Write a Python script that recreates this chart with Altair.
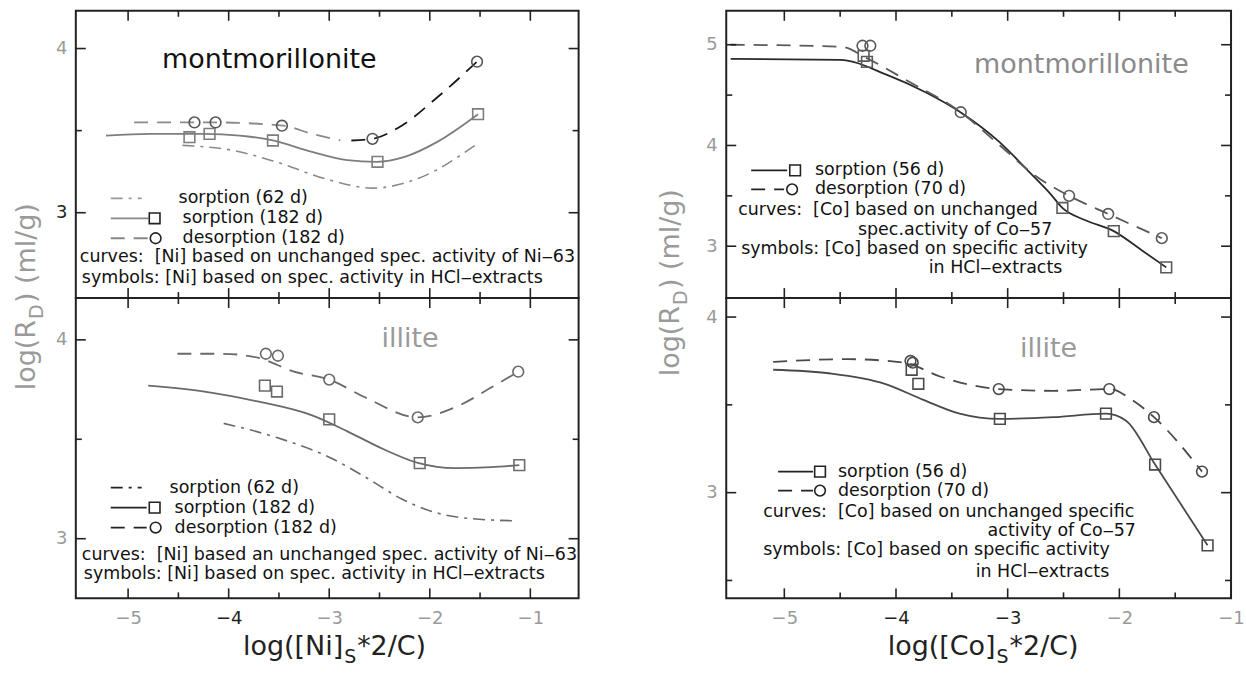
import altair as alt
import pandas as pd

# ------------------------------------------------------------------
# Data
# ------------------------------------------------------------------
# Ni / montmorillonite
ni_mont_sq_x = [-4.39, -4.19, -3.56, -2.52, -1.52]
ni_mont_sq_y = [3.46, 3.48, 3.44, 3.31, 3.60]
ni_mont_ci_x = [-4.34, -4.13, -3.47, -2.57, -1.53]
ni_mont_ci_y = [3.55, 3.55, 3.53, 3.45, 3.92]
ni_mont_s182_x = [-5.22, -4.78, -4.24, -3.89, -3.56, -3.17, -2.82, -2.53, -2.25, -1.93, -1.52]
ni_mont_s182_y = [3.47, 3.48, 3.48, 3.47, 3.44, 3.37, 3.32, 3.31, 3.34, 3.43, 3.60]
ni_mont_d182a_x = [-4.94, -4.35, -4.14, -3.46, -3.17, -2.89]
ni_mont_d182a_y = [3.55, 3.55, 3.55, 3.53, 3.48, 3.44]
ni_mont_d182b_x = [-2.78, -2.57, -2.28, -1.93, -1.53]
ni_mont_d182b_y = [3.44, 3.45, 3.53, 3.70, 3.92]
ni_mont_s62_x = [-4.46, -3.96, -3.53, -3.00, -2.57, -2.11, -1.55]
ni_mont_s62_y = [3.41, 3.38, 3.31, 3.20, 3.15, 3.21, 3.41]

# Ni / illite
ni_ill_sq_x = [-3.64, -3.52, -3.00, -2.10, -1.11]
ni_ill_sq_y = [3.77, 3.74, 3.60, 3.38, 3.37]
ni_ill_ci_x = [-3.63, -3.51, -3.00, -2.12, -1.12]
ni_ill_ci_y = [3.93, 3.92, 3.80, 3.61, 3.84]
ni_ill_s182_x = [-4.80, -4.24, -3.71, -3.17, -2.82, -2.46, -2.11, -1.75, -1.39, -1.11]
ni_ill_s182_y = [3.77, 3.74, 3.69, 3.62, 3.54, 3.45, 3.38, 3.355, 3.36, 3.37]
ni_ill_d182_x = [-4.51, -4.07, -3.71, -3.35, -3.00, -2.64, -2.12, -1.75, -1.39, -1.12]
ni_ill_d182_y = [3.93, 3.93, 3.91, 3.84, 3.80, 3.71, 3.61, 3.66, 3.76, 3.84]
ni_ill_s62_x = [-4.05, -3.53, -3.00, -2.64, -2.28, -1.93, -1.57, -1.14]
ni_ill_s62_y = [3.58, 3.51, 3.41, 3.31, 3.20, 3.13, 3.10, 3.09]

# Co / montmorillonite
co_mont_sq_x = [-4.29, -4.26, -2.51, -2.05, -1.58]
co_mont_sq_y = [4.89, 4.83, 3.38, 3.15, 2.79]
co_mont_ci_x = [-4.30, -4.23, -3.42, -2.45, -2.10, -1.62]
co_mont_ci_y = [4.99, 4.99, 4.33, 3.50, 3.32, 3.08]
co_mont_s56_x = [-5.48, -4.50, -4.08, -3.74, -3.41, -3.08, -2.81, -2.61, -2.51, -2.31, -2.05, -1.80, -1.58]
co_mont_s56_y = [4.86, 4.85, 4.70, 4.53, 4.32, 4.04, 3.74, 3.51, 3.38, 3.26, 3.15, 2.96, 2.79]
co_mont_d70_x = [-5.48, -4.49, -4.25, -3.91, -3.42, -3.08, -2.74, -2.45, -2.10, -1.62]
co_mont_d70_y = [5.00, 4.98, 4.86, 4.65, 4.33, 4.01, 3.69, 3.50, 3.32, 3.08]

# Co / illite
co_ill_sq_x = [-3.86, -3.80, -3.07, -2.12, -1.68, -1.21]
co_ill_sq_y = [3.70, 3.62, 3.42, 3.45, 3.16, 2.70]
co_ill_ci_x = [-3.87, -3.85, -3.08, -2.09, -1.69, -1.26]
co_ill_ci_y = [3.75, 3.74, 3.59, 3.59, 3.43, 3.12]
co_ill_s56_x = [-5.10, -4.60, -4.10, -3.76, -3.43, -3.07, -2.59, -2.12, -1.94, -1.68, -1.21]
co_ill_s56_y = [3.70, 3.68, 3.62, 3.53, 3.45, 3.42, 3.43, 3.45, 3.41, 3.16, 2.70]
co_ill_d70_x = [-5.10, -4.43, -3.93, -3.60, -3.08, -2.59, -2.09, -1.89, -1.69, -1.26]
co_ill_d70_y = [3.745, 3.76, 3.74, 3.66, 3.59, 3.58, 3.59, 3.53, 3.43, 3.12]

# tick values
x_major = [-5, -4, -3, -2, -1]
x_minor = [-4.5, -3.5, -2.5, -1.5]

FONT = "DejaVu Sans"
TXT = 17.5
SOLID = []
DASH = [14, 9]
DASHDOT = [12, 6, 3, 6]
DUMMY = pd.DataFrame({"a": [0]})
SP2 = "\u00a0 "  # double space that survives SVG whitespace collapsing


def curve(xs, ys, xsc, ysc, xax, yax, dash, color, width=1.8):
    df = pd.DataFrame({"x": xs, "y": ys, "o": list(range(len(xs)))})
    mk = dict(color=color, strokeWidth=width, interpolate="monotone")
    if dash:
        mk["strokeDash"] = dash
    return alt.Chart(df).mark_line(**mk).encode(
        x=alt.X("x:Q", scale=xsc, axis=xax),
        y=alt.Y("y:Q", scale=ysc, axis=yax),
        order="o:Q",
    )


def symbols(xs, ys, xsc, ysc, xax, yax, shape, color):
    df = pd.DataFrame({"x": xs, "y": ys})
    return alt.Chart(df).mark_point(
        shape=shape, filled=False, size=115, strokeWidth=1.6, color=color, opacity=1
    ).encode(x=alt.X("x:Q", scale=xsc, axis=xax), y=alt.Y("y:Q", scale=ysc, axis=yax))


def tick_layers(xsc, ysc, xax, yax, ymaj, ymin, W, H):
    out = []
    for vals, L in ((x_major, 10), (x_minor, 6)):
        df = pd.DataFrame({"x": vals})
        b = alt.Chart(df).mark_rule(color="#222", strokeWidth=1.6)
        out.append(b.encode(x=alt.X("x:Q", scale=xsc, axis=xax), y=alt.value(H), y2=alt.value(H - L)))
        out.append(b.encode(x=alt.X("x:Q", scale=xsc, axis=xax), y=alt.value(0), y2=alt.value(L)))
    for vals, L in ((ymaj, 10), (ymin, 6)):
        if not vals:
            continue
        df = pd.DataFrame({"y": vals})
        b = alt.Chart(df).mark_rule(color="#222", strokeWidth=1.6)
        out.append(b.encode(y=alt.Y("y:Q", scale=ysc, axis=yax), x=alt.value(0), x2=alt.value(L)))
        out.append(b.encode(y=alt.Y("y:Q", scale=ysc, axis=yax), x=alt.value(W), x2=alt.value(W - L)))
    return out


def text(s, x, y, size=TXT, color="#111", align="left", angle=0, baseline="middle", weight="normal"):
    mk = dict(text=s, font=FONT, fontSize=size, color=color, align=align, baseline=baseline,
              fontWeight=weight)
    if angle:
        mk["angle"] = angle
    return alt.Chart(DUMMY).mark_text(**mk).encode(x=alt.value(x), y=alt.value(y))


def seg(x1, x2, y, dash, color="#222", width=1.8):
    mk = dict(color=color, strokeWidth=width)
    if dash:
        mk["strokeDash"] = dash
    return alt.Chart(DUMMY).mark_rule(**mk).encode(x=alt.value(x1), x2=alt.value(x2), y=alt.value(y))


def sym(x, y, shape, color="#222"):
    return alt.Chart(DUMMY).mark_point(shape=shape, filled=False, size=115, strokeWidth=1.6,
                                       color=color, opacity=1).encode(x=alt.value(x), y=alt.value(y))


def xaxis(show, black_vals):
    if not show:
        return alt.Axis(labels=False, ticks=False, domain=False, grid=False, title=None)
    test = " || ".join(f"datum.value == {v}" for v in black_vals) or "false"
    return alt.Axis(values=x_major, ticks=False, domain=False, grid=False, title=None,
                    labelFont=FONT, labelFontSize=18, labelPadding=11, labelFlush=False,
                    labelColor={"condition": {"test": test, "value": "#222"}, "value": "#9a9a9a"})


def yaxis(vals, black_vals):
    test = " || ".join(f"datum.value == {v}" for v in black_vals) or "false"
    return alt.Axis(values=vals, ticks=False, domain=False, grid=False, title=None,
                    labelFont=FONT, labelFontSize=18, labelPadding=9, labelFlush=False,
                    labelColor={"condition": {"test": test, "value": "#222"}, "value": "#9a9a9a"})


# panel sizes (plot areas)
W_L, W_R = 504, 506
H_T, H_B = 288, 301

xs_L = alt.Scale(domain=[-5.52, -0.52], nice=False, zero=False)
xs_R = alt.Scale(domain=[-5.52, -1.0], nice=False, zero=False)

# ------------------------------------------------------------------
# Panel: Ni montmorillonite (top left)
# ------------------------------------------------------------------
ys = alt.Scale(domain=[2.48, 4.23], nice=False, zero=False)
xa = xaxis(False, [])
ya = yaxis([3, 4], [3])
g1, g2, k = "#7d7d7d", "#8a8a8a", "#1a1a1a"
tl_layers = [
    curve(ni_mont_s62_x, ni_mont_s62_y, xs_L, ys, xa, ya, DASHDOT, g2, 1.6),
    curve(ni_mont_s182_x, ni_mont_s182_y, xs_L, ys, xa, ya, SOLID, g1),
    curve(ni_mont_d182a_x, ni_mont_d182a_y, xs_L, ys, xa, ya, DASH, g2),
    curve(ni_mont_d182b_x, ni_mont_d182b_y, xs_L, ys, xa, ya, DASH, k),
    symbols(ni_mont_sq_x, ni_mont_sq_y, xs_L, ys, xa, ya, "square", g1),
    symbols(ni_mont_ci_x, ni_mont_ci_y, xs_L, ys, xa, ya, "circle", "#555"),
] + tick_layers(xs_L, ys, xa, ya, [3, 4], [3.5], W_L, H_T) + [
    text("montmorillonite", 194, 49, size=27, color="#111", align="center"),
    seg(35, 66, 188, DASHDOT, "#999"), text("sorption (62 d)", 103, 188),
    seg(35, 73, 208, SOLID, "#888"), sym(79, 208, "square"), text("sorption (182 d)", 107, 208),
    seg(35, 72, 228, DASH, "#888"), sym(80, 228, "circle"), text("desorption (182 d)", 107, 228),
    text("curves:" + SP2 + "[Ni] based on unchanged spec. activity of Ni\u201263", 4, 247),
    text("symbols: [Ni] based on spec. activity in HCl\u2012extracts", 6, 268),
    # y axis title  log(R_D) (ml/g)
    text("log(R", -41, 310, size=27, color="#9a9a9a", align="right", angle=270, baseline="alphabetic"),
    text("D", -33, 309, size=19, color="#9a9a9a", align="left", angle=270, baseline="alphabetic"),
    text(") (ml/g)", -41, 293, size=27, color="#9a9a9a", align="left", angle=270, baseline="alphabetic"),
]
tl = alt.layer(*tl_layers).properties(width=W_L, height=H_T)

# ------------------------------------------------------------------
# Panel: Ni illite (bottom left)
# ------------------------------------------------------------------
ys = alt.Scale(domain=[2.70, 4.21], nice=False, zero=False)
xa = xaxis(True, [-4])
ya = yaxis([3, 4], [])
g = "#6a6a6a"
bl_layers = [
    curve(ni_ill_s62_x, ni_ill_s62_y, xs_L, ys, xa, ya, DASHDOT, g, 1.6),
    curve(ni_ill_s182_x, ni_ill_s182_y, xs_L, ys, xa, ya, SOLID, g),
    curve(ni_ill_d182_x, ni_ill_d182_y, xs_L, ys, xa, ya, DASH, g),
    symbols(ni_ill_sq_x, ni_ill_sq_y, xs_L, ys, xa, ya, "square", g),
    symbols(ni_ill_ci_x, ni_ill_ci_y, xs_L, ys, xa, ya, "circle", g),
] + tick_layers(xs_L, ys, xa, ya, [3, 4], [3.5], W_L, H_B) + [
    text("illite", 335, 41, size=27, color="#9a9a9a", align="center"),
    seg(35, 66, 190, DASHDOT), text("sorption (62 d)", 94, 190),
    seg(35, 71, 210, SOLID), sym(79, 210, "square"), text("sorption (182 d)", 99, 210),
    seg(35, 71, 230, DASH), sym(80, 230, "circle"), text("desorption (182 d)", 99, 230),
    text("curves:" + SP2 + "[Ni] based an unchanged spec. activity of Ni\u201263", 6, 258),
    text("symbols: [Ni] based on spec. activity in HCl\u2012extracts", 8, 277),
    # x axis title log([Ni]_S*2/C)
    text("log([Ni]", 268, 358, size=27, color="#222", align="right", baseline="alphabetic"),
    text("S", 269, 366, size=19, color="#222", align="left", baseline="alphabetic"),
    text("*2/C)", 282, 358, size=27, color="#222", align="left", baseline="alphabetic"),
]
bl = alt.layer(*bl_layers).properties(width=W_L, height=H_B)

# ------------------------------------------------------------------
# Panel: Co montmorillonite (top right)
# ------------------------------------------------------------------
ys = alt.Scale(domain=[2.485, 5.337], nice=False, zero=False)
xa = xaxis(False, [])
ya = yaxis([3, 4, 5], [])
c1, c2 = "#2a2a2a", "#5a5a5a"
tr_layers = [
    curve(co_mont_s56_x, co_mont_s56_y, xs_R, ys, xa, ya, SOLID, c1),
    curve(co_mont_d70_x, co_mont_d70_y, xs_R, ys, xa, ya, DASH, c2),
    symbols(co_mont_sq_x, co_mont_sq_y, xs_R, ys, xa, ya, "square", c2),
    symbols(co_mont_ci_x, co_mont_ci_y, xs_R, ys, xa, ya, "circle", c2),
] + tick_layers(xs_R, ys, xa, ya, [3, 4, 5], [3.5, 4.5], W_R, H_T) + [
    text("montmorillonite", 356, 54, size=27, color="#8a8a8a", align="center"),
    seg(25, 61, 160, SOLID), sym(69, 160, "square"), text("sorption (56 d)", 89, 160),
    seg(25, 58, 179, DASH), sym(66, 179, "circle"), text("desorption (70 d)", 89, 179),
    text("curves:" + SP2 + "[Co] based on unchanged", 12, 200),
    text("spec.activity of Co\u201257", 132, 220),
    text("symbols: [Co] based on specific activity", 15, 239),
    text("in HCl\u2012extracts", 203, 258),
    # y axis title
    text("log(R", -47, 296, size=27, color="#9a9a9a", align="right", angle=270, baseline="alphabetic"),
    text("D", -39, 295, size=19, color="#9a9a9a", align="left", angle=270, baseline="alphabetic"),
    text(") (ml/g)", -47, 279, size=27, color="#9a9a9a", align="left", angle=270, baseline="alphabetic"),
]
tr = alt.layer(*tr_layers).properties(width=W_R, height=H_T)

# ------------------------------------------------------------------
# Panel: Co illite (bottom right)
# ------------------------------------------------------------------
ys = alt.Scale(domain=[2.398, 4.108], nice=False, zero=False)
xa = xaxis(True, [-4, -3])
ya = yaxis([3, 4], [])
d = "#4a4a4a"
br_layers = [
    curve(co_ill_s56_x, co_ill_s56_y, xs_R, ys, xa, ya, SOLID, d),
    curve(co_ill_d70_x, co_ill_d70_y, xs_R, ys, xa, ya, DASH, d),
    symbols(co_ill_sq_x, co_ill_sq_y, xs_R, ys, xa, ya, "square", d),
    symbols(co_ill_ci_x, co_ill_ci_y, xs_R, ys, xa, ya, "circle", d),
] + tick_layers(xs_R, ys, xa, ya, [3, 4], [2.5, 3.5], W_R, H_B) + [
    text("illite", 323, 51, size=27, color="#9a9a9a", align="center"),
    seg(52, 87, 174, SOLID), sym(94, 174, "square"), text("sorption (56 d)", 112, 174),
    seg(52, 87, 193, DASH), sym(94, 193, "circle"), text("desorption (70 d)", 112, 193),
    text("curves:" + SP2 + "[Co] based on unchanged specific", 37, 214),
    text("activity of Co\u201257", 262, 233),
    text("symbols: [Co] based on specific activity", 37, 253),
    text("in HCl\u2012extracts", 250, 275),
    # x axis title log([Co]_S*2/C)
    text("log([Co]", 270, 358, size=27, color="#222", align="right", baseline="alphabetic"),
    text("S", 271, 366, size=19, color="#222", align="left", baseline="alphabetic"),
    text("*2/C)", 284, 358, size=27, color="#222", align="left", baseline="alphabetic"),
]
br = alt.layer(*br_layers).properties(width=W_R, height=H_B)

chart = (
    alt.concat(tl, tr, bl, br, columns=2, spacing={"row": 0, "column": 148}, bounds="flush")
    .properties(padding={"left": 12, "top": 8, "right": 0, "bottom": 0},
                autosize=alt.AutoSizeParams(type="pad"), background="white")
    .configure_view(stroke="#222", strokeWidth=2)
)

chart.save("out.html", embed_options={"renderer": "svg", "actions": False})
